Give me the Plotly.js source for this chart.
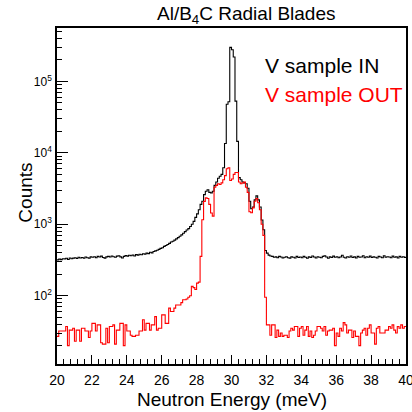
<!DOCTYPE html>
<html>
<head>
<meta charset="utf-8">
<script src="https://cdn.plot.ly/plotly-3.0.1.min.js"></script>
<style>
  html, body { margin: 0; padding: 0; background: #ffffff; overflow: hidden; }
  #chart { width: 412px; height: 412px; }
</style>
</head>
<body>
<div id="chart"></div>
<script>
// Histogram binning (meV)
const energyMin = 20;
const energyMax = 40;
const nBins = 200;

// Counts per bin, V sample IN (black)
const countsIn = [
  318, 325, 320, 330, 328, 335, 322, 338, 330, 336,
  340, 332, 345, 338, 342, 335, 348, 340, 336, 350,
  345, 352, 340, 355, 348, 358, 343, 336, 350, 356,
  348, 360, 352, 345, 358, 362, 350, 338, 355, 365,
  358, 368, 362, 372, 360, 376, 370, 380, 374, 386,
  382, 395, 388, 405, 398, 415, 425, 432, 445, 460,
  470, 490, 505, 520, 540, 565, 580, 600, 625, 650,
  680, 710, 750, 790, 830, 870, 930, 1000, 1100, 1250,
  1400, 1600, 1900, 2100, 2600, 2900, 3050, 2800, 2750, 2900,
  3500, 3900, 4400, 4700, 5000, 6200, 13500, 48000, 52000, 300000,
  278000, 220000, 53000, 14500, 4500, 4200, 3900, 3800, 3700, 3200,
  2100, 1650, 1750, 2200, 2500, 2200, 1750, 1150, 840, 430,
  395, 370, 360, 355, 345, 350, 340, 355, 348, 338,
  345, 352, 340, 336, 350, 345, 338, 355, 342, 348,
  340, 356, 345, 335, 350, 342, 360, 348, 338, 352,
  345, 340, 355, 362, 348, 335, 350, 343, 358, 345,
  352, 340, 348, 368, 345, 338, 352, 345, 360, 342,
  350, 338, 355, 345, 348, 362, 340, 352, 345, 358,
  342, 350, 346, 338, 355, 348, 340, 362, 345, 352,
  348, 340, 358, 345, 350, 338, 355, 346, 352, 344
];

// Counts per bin, V sample OUT (red)
const countsOut = [
  27, 32, 32, 32, 32, 37, 20, 33, 33, 35,
  23, 33, 33, 23, 35, 35, 32, 32, 26, 32,
  41, 41, 32, 39, 39, 22, 21, 21, 35, 22,
  37, 37, 39, 21, 33, 33, 41, 41, 20, 39,
  32, 32, 28, 27, 27, 28, 28, 32, 32, 46,
  33, 41, 41, 33, 39, 39, 51, 33, 35, 35,
  54, 54, 41, 41, 67, 60, 60, 67, 74, 74,
  74, 80, 88, 88, 90, 95, 100, 135, 130, 122,
  150, 155, 355, 1160, 2090, 2340, 2300, 1900, 1440, 1300,
  3300, 3500, 3700, 3600, 3800, 4200, 4800, 6000, 6200, 4100,
  4300, 5000, 5300, 5300, 3900, 3700, 3800, 3900, 3300, 2800,
  1500, 1450, 1700, 2100, 2300, 2000, 1600, 1000, 700, 95,
  39, 39, 28, 39, 39, 26, 33, 27, 30, 27,
  28, 28, 26, 32, 35, 33, 37, 37, 27, 35,
  37, 28, 33, 37, 27, 32, 26, 28, 32, 37,
  37, 35, 32, 37, 28, 32, 33, 33, 35, 20,
  30, 27, 35, 32, 42, 39, 30, 33, 33, 26,
  32, 27, 27, 20, 30, 33, 35, 28, 35, 39,
  30, 30, 21, 35, 37, 30, 30, 30, 33, 33,
  37, 35, 39, 33, 30, 37, 35, 39, 35, 37
];

// Tick labels
const xTickVals = [20, 22, 24, 26, 28, 30, 32, 34, 36, 38, 40];
const yTickVals = [100, 1000, 10000, 100000];
const yTickText = ["10<sup>2</sup>", "10<sup>3</sup>", "10<sup>4</sup>", "10<sup>5</sup>"];

const titleText = "Al/B<sub>4</sub>C Radial Blades";
const xTitle = "Neutron Energy (meV)";
const yTitle = "Counts";
const seriesNames = ["V sample IN", "V sample OUT"];

// ---- build step outlines (bin edges) ----
const binWidth = (energyMax - energyMin) / nBins;
const edges = [];
for (let i = 0; i <= nBins; i++) edges.push(+(energyMin + i * binWidth).toFixed(4));
function stepY(arr) { return arr.concat([arr[arr.length - 1]]); }

// minor log ticks
const yMinor = [];
for (let d = 10; d <= 100000; d *= 10) {
  for (let m = 2; m <= 9; m++) yMinor.push(m * d);
}

const font = "Liberation Sans, Arial, Helvetica, sans-serif";

const traces = [
  {
    type: "scatter", mode: "lines", name: seriesNames[0],
    x: edges, y: stepY(countsIn),
    line: { shape: "hv", color: "#000000", width: 1.1 },
    showlegend: false, hoverinfo: "skip"
  },
  {
    type: "scatter", mode: "lines", name: seriesNames[1],
    x: edges, y: stepY(countsOut),
    line: { shape: "hv", color: "#ff0000", width: 1.1 },
    showlegend: false, hoverinfo: "skip"
  }
];

const layout = {
  width: 412, height: 412,
  margin: { l: 57, r: 6, t: 28, b: 48, pad: 0 },
  paper_bgcolor: "#ffffff", plot_bgcolor: "#ffffff",
  font: { family: font, color: "#000000" },
  showlegend: false,
  xaxis: {
    range: [energyMin, energyMax],
    showline: true, linecolor: "#000000", linewidth: 1.8, mirror: true,
    showgrid: false, zeroline: false,
    ticks: "inside", ticklen: 9, tickwidth: 1, tickcolor: "#000000",
    tickmode: "array", tickvals: xTickVals,
    tickfont: { size: 14, family: font, color: "#000000" },
    ticklabelstandoff: 2,
    ticklabeloverflow: "allow",
    minor: { ticks: "inside", ticklen: 5, tickwidth: 1, tickcolor: "#000000", dtick: 0.4, tick0: 20, showgrid: false }
  },
  yaxis: {
    type: "log",
    range: [1.044, 5.748],
    showline: true, linecolor: "#000000", linewidth: 1.8, mirror: true,
    showgrid: false, zeroline: false,
    ticks: "inside", ticklen: 11, tickwidth: 1, tickcolor: "#000000",
    tickmode: "array", tickvals: yTickVals, ticktext: yTickText,
    tickfont: { size: 12, family: font, color: "#000000" },
    ticklabelstandoff: 1,
    minor: { ticks: "inside", ticklen: 5, tickwidth: 1, tickcolor: "#000000", tickmode: "array", tickvals: yMinor, showgrid: false }
  },
  annotations: [
    { text: titleText, xref: "paper", yref: "paper", x: (246 - 57) / 349, y: 1, yshift: 13,
      xanchor: "center", yanchor: "middle", showarrow: false,
      font: { size: 19, family: font, color: "#000000" } },
    { text: xTitle, xref: "paper", yref: "paper", x: 0.5, y: 0, yshift: -35,
      xanchor: "center", yanchor: "middle", showarrow: false,
      font: { size: 19, family: font, color: "#000000" } },
    { text: yTitle, xref: "paper", yref: "paper", x: 0, xshift: -31, y: 0.51,
      xanchor: "center", yanchor: "middle", textangle: -90, showarrow: false,
      font: { size: 19, family: font, color: "#000000" } },
    { text: seriesNames[0], xref: "paper", yref: "paper", x: (263 - 57) / 349, y: 1, yshift: -37,
      xanchor: "left", yanchor: "middle", showarrow: false,
      font: { size: 21, family: font, color: "#000000" } },
    { text: seriesNames[1], xref: "paper", yref: "paper", x: (263 - 57) / 349, y: 1, yshift: -66,
      xanchor: "left", yanchor: "middle", showarrow: false,
      font: { size: 21, family: font, color: "#ff0000" } }
  ]
};

Plotly.newPlot("chart", traces, layout, { staticPlot: true, displayModeBar: false });
</script>
</body>
</html>
